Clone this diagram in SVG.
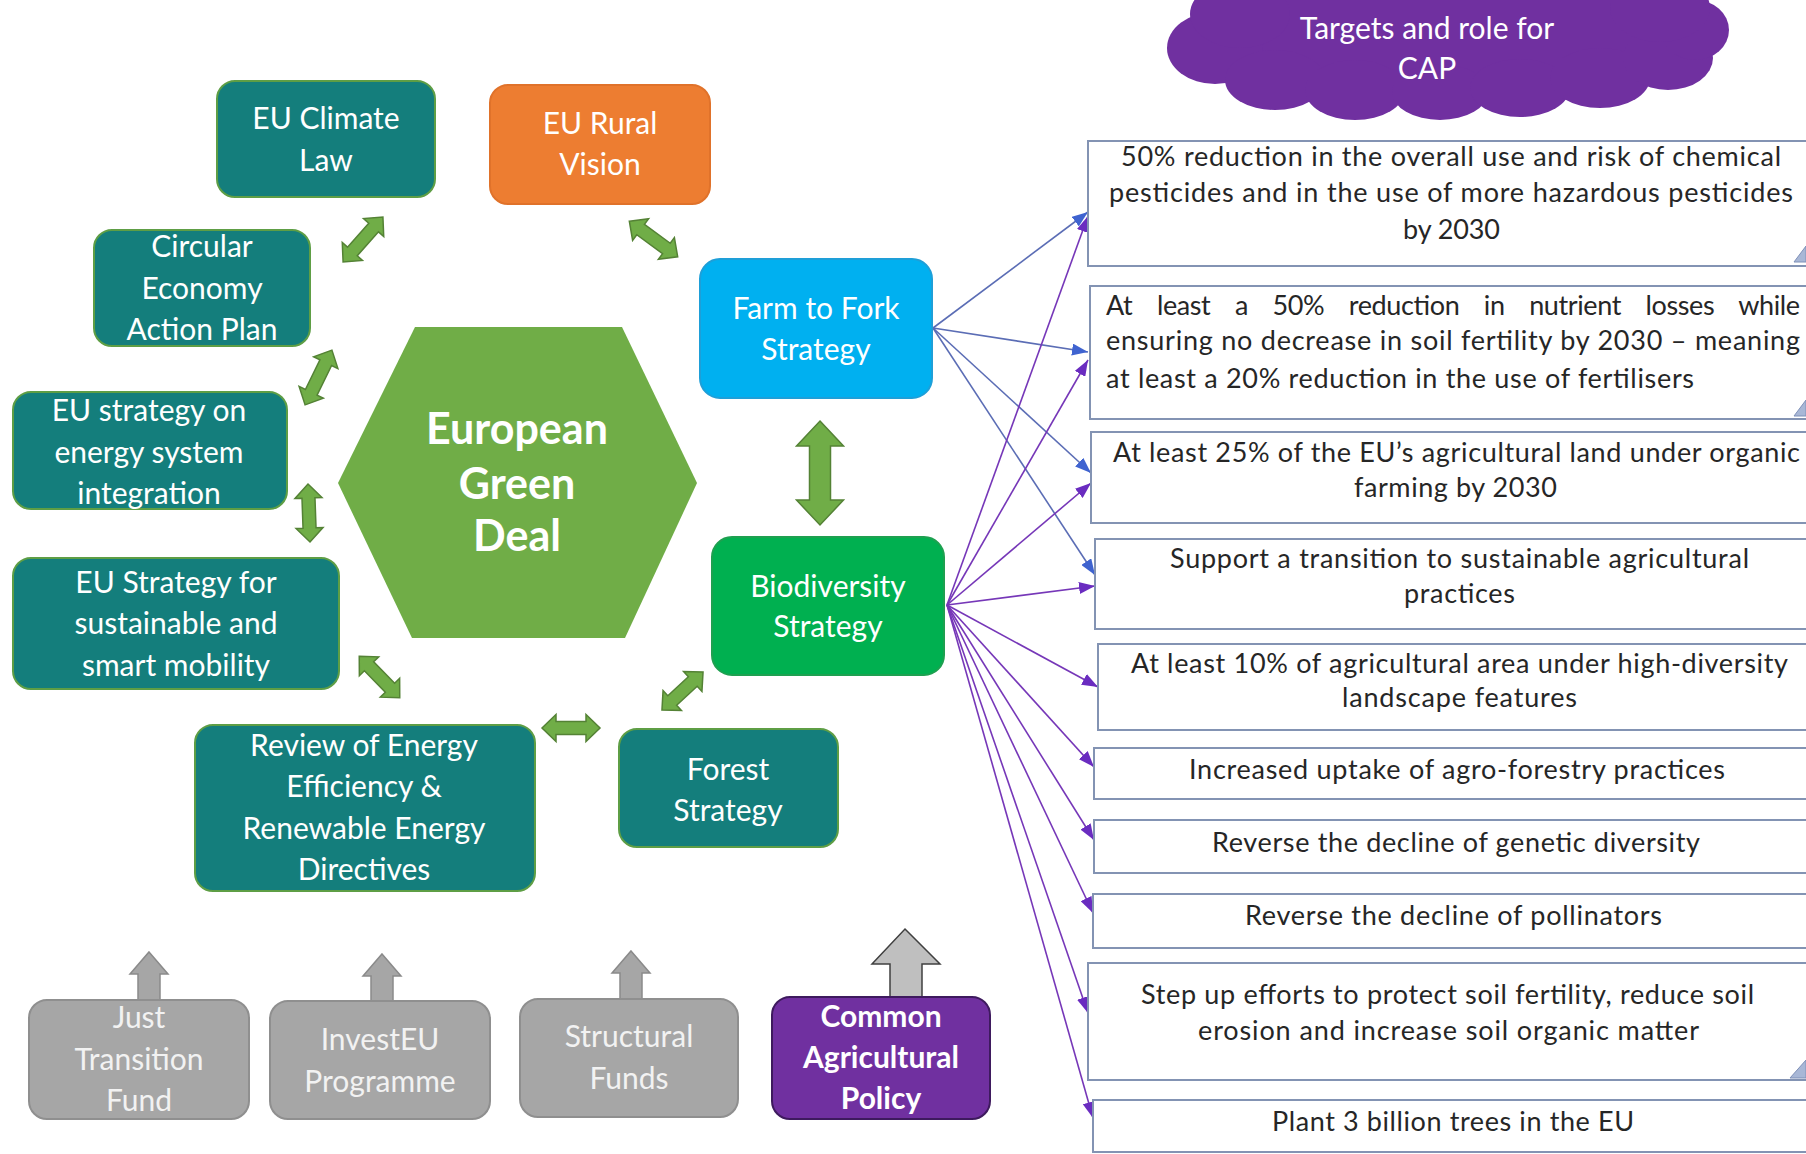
<svg xmlns="http://www.w3.org/2000/svg" width="1806" height="1154" viewBox="0 0 1806 1154">
<defs>
<style>
.teal{fill:#147E7C;stroke:#5E9E45;stroke-width:2}
.nt{font-family:Lato,"Liberation Sans",sans-serif;font-size:30px;fill:#ffffff;text-anchor:middle}
.bold{font-weight:bold}
.gray{fill:#A6A6A6;stroke:#8F8F8F;stroke-width:2}
.gt{font-family:Lato,"Liberation Sans",sans-serif;font-size:30px;fill:#F2F2F2;text-anchor:middle}
.tbox{fill:#ffffff;stroke:#8393B3;stroke-width:2}
.tt{font-family:Lato,"Liberation Sans",sans-serif;font-size:27px;fill:#262626}
.dbl{fill:#70AD47;stroke:#548235;stroke-width:1.5}
.up{fill:#A6A6A6;stroke:#8A8A8A;stroke-width:1.5}
.cf{fill:#A8B7D6;stroke:#7F90B8;stroke-width:1}
.lb{stroke:#5B6DB5;stroke-width:1.6;fill:none}
.lp{stroke:#7637B8;stroke-width:1.6;fill:none}
</style>
<marker id="hb" viewBox="0 0 16 12" refX="16" refY="6" markerWidth="16" markerHeight="12" markerUnits="userSpaceOnUse" orient="auto"><path d="M0,0 L16,6 L0,12 Z" fill="#3F63D0"/></marker>
<marker id="hp" viewBox="0 0 16 12" refX="16" refY="6" markerWidth="16" markerHeight="12" markerUnits="userSpaceOnUse" orient="auto"><path d="M0,0 L16,6 L0,12 Z" fill="#6A2CC0"/></marker>
</defs>
<rect width="1806" height="1154" fill="#ffffff"/>

<g id="cloud">
<g fill="#7030A0">
<ellipse cx="1447" cy="40" rx="262" ry="62"/>
<ellipse cx="1215" cy="48" rx="48" ry="36"/>
<ellipse cx="1275" cy="80" rx="50" ry="30"/>
<ellipse cx="1355" cy="90" rx="50" ry="30"/>
<ellipse cx="1440" cy="92" rx="48" ry="28"/>
<ellipse cx="1520" cy="88" rx="50" ry="29"/>
<ellipse cx="1600" cy="78" rx="50" ry="30"/>
<ellipse cx="1668" cy="58" rx="45" ry="32"/>
<ellipse cx="1695" cy="30" rx="34" ry="30"/>
<ellipse cx="1240" cy="14" rx="50" ry="34"/>
<ellipse cx="1660" cy="8" rx="50" ry="34"/>
</g>
<text class="nt" x="1427" y="39" fill="#F3EAFA">Targets and role for</text>
<text class="nt" x="1427" y="79" fill="#F3EAFA">CAP</text>
</g>

<g id="connectors">
<g class="lb">
<line x1="933" y1="328" x2="1088" y2="212" marker-end="url(#hb)"/>
<line x1="933" y1="328" x2="1088" y2="352" marker-end="url(#hb)"/>
<line x1="933" y1="328" x2="1091" y2="473" marker-end="url(#hb)"/>
<line x1="933" y1="328" x2="1095" y2="575" marker-end="url(#hb)"/>
</g>
<g class="lp">
<line x1="947" y1="605" x2="1088" y2="216" marker-end="url(#hp)"/>
<line x1="947" y1="605" x2="1088" y2="360" marker-end="url(#hp)"/>
<line x1="947" y1="605" x2="1091" y2="483" marker-end="url(#hp)"/>
<line x1="947" y1="605" x2="1095" y2="586" marker-end="url(#hp)"/>
<line x1="947" y1="605" x2="1098" y2="687" marker-end="url(#hp)"/>
<line x1="947" y1="605" x2="1094" y2="767" marker-end="url(#hp)"/>
<line x1="947" y1="605" x2="1094" y2="840" marker-end="url(#hp)"/>
<line x1="947" y1="605" x2="1093" y2="913" marker-end="url(#hp)"/>
<line x1="947" y1="605" x2="1088" y2="1013" marker-end="url(#hp)"/>
<line x1="947" y1="605" x2="1093" y2="1118" marker-end="url(#hp)"/>
</g>
<g id="green-arrows">
<path class="dbl" transform="translate(363,239.5) rotate(-48.4)" d="M-30,0 L-16,-13.5 L-16,-6.5 L16,-6.5 L16,-13.5 L30,0 L16,13.5 L16,6.5 L-16,6.5 L-16,13.5 Z"/>
<path class="dbl" transform="translate(653.5,239) rotate(36.3)" d="M-30,0 L-16,-13.5 L-16,-6.5 L16,-6.5 L16,-13.5 L30,0 L16,13.5 L16,6.5 L-16,6.5 L-16,13.5 Z"/>
<path class="dbl" transform="translate(318.5,377.5) rotate(-63.9)" d="M-30.5,0 L-16.5,-13.5 L-16.5,-6.5 L16.5,-6.5 L16.5,-13.5 L30.5,0 L16.5,13.5 L16.5,6.5 L-16.5,6.5 L-16.5,13.5 Z"/>
<path class="dbl" transform="translate(309,513) rotate(88)" d="M-29,0 L-15,-13.5 L-15,-6.5 L15,-6.5 L15,-13.5 L29,0 L15,13.5 L15,6.5 L-15,6.5 L-15,13.5 Z"/>
<path class="dbl" transform="translate(379.5,677) rotate(45.7)" d="M-29,0 L-15,-13.5 L-15,-6.5 L15,-6.5 L15,-13.5 L29,0 L15,13.5 L15,6.5 L-15,6.5 L-15,13.5 Z"/>
<path class="dbl" transform="translate(571,728)" d="M-29,0 L-15,-13.5 L-15,-6.5 L15,-6.5 L15,-13.5 L29,0 L15,13.5 L15,6.5 L-15,6.5 L-15,13.5 Z"/>
<path class="dbl" transform="translate(682.5,691) rotate(-42.8)" d="M-28,0 L-14,-13.5 L-14,-6.5 L14,-6.5 L14,-13.5 L28,0 L14,13.5 L14,6.5 L-14,6.5 L-14,13.5 Z"/>
<path class="dbl" transform="translate(820,473) rotate(90)" d="M-52,0 L-27,-23.5 L-27,-10.5 L27,-10.5 L27,-23.5 L52,0 L27,23.5 L27,10.5 L-27,10.5 L-27,23.5 Z"/>
</g>
<g id="up-arrows">
<path class="up" d="M149,952 L168,974 L160,974 L160,1001 L138,1001 L138,974 L130,974 Z"/>
<path class="up" d="M382,954 L401,976 L393,976 L393,1002 L371,1002 L371,976 L363,976 Z"/>
<path class="up" d="M631,951 L650,973 L642,973 L642,999 L620,999 L620,973 L612,973 Z"/>
<path d="M905,929 L940,964 L922,964 L922,997 L890,997 L890,964 L872,964 Z" fill="#BFBFBF" stroke="#404040" stroke-width="1.5"/>
</g>
</g>

<g id="n-climate">
<rect class="teal" x="217" y="81" width="218" height="116" rx="18"/>
<text class="nt" x="326" y="129">EU Climate</text>
<text class="nt" x="326" y="171">Law</text>
</g>
<g id="n-rural">
<rect x="490" y="85" width="220" height="119" rx="18" fill="#ED7D31" stroke="#E0722A" stroke-width="2"/>
<text class="nt" x="600" y="134">EU Rural</text>
<text class="nt" x="600" y="175">Vision</text>
</g>
<g id="n-circular">
<rect class="teal" x="94" y="230" width="216" height="116" rx="18"/>
<text class="nt" x="202" y="257">Circular</text>
<text class="nt" x="202" y="299">Economy</text>
<text class="nt" x="202" y="340">Action Plan</text>
</g>
<g id="n-energy">
<rect class="teal" x="13" y="392" width="274" height="117" rx="18"/>
<text class="nt" x="149" y="421">EU strategy on</text>
<text class="nt" x="149" y="463">energy system</text>
<text class="nt" x="149" y="504">integration</text>
</g>
<g id="n-mobility">
<rect class="teal" x="13" y="558" width="326" height="131" rx="18"/>
<text class="nt" x="176" y="593">EU Strategy for</text>
<text class="nt" x="176" y="634">sustainable and</text>
<text class="nt" x="176" y="676">smart mobility</text>
</g>
<g id="n-review">
<rect class="teal" x="195" y="725" width="340" height="166" rx="18"/>
<text class="nt" x="364" y="756">Review of Energy</text>
<text class="nt" x="364" y="797">Efficiency &amp;</text>
<text class="nt" x="364" y="839">Renewable Energy</text>
<text class="nt" x="364" y="880">Directives</text>
</g>
<g id="n-forest">
<rect class="teal" x="619" y="729" width="219" height="118" rx="18"/>
<text class="nt" x="728" y="780">Forest</text>
<text class="nt" x="728" y="821">Strategy</text>
</g>
<g id="n-biodiversity">
<rect x="712" y="537" width="232" height="138" rx="20" fill="#00B050" stroke="#1EA050" stroke-width="2"/>
<text class="nt" x="828" y="597">Biodiversity</text>
<text class="nt" x="828" y="637">Strategy</text>
</g>
<g id="n-farm">
<rect x="700" y="259" width="232" height="139" rx="20" fill="#00B0F0" stroke="#1E9FD8" stroke-width="2"/>
<text class="nt" x="816" y="319">Farm to Fork</text>
<text class="nt" x="816" y="360">Strategy</text>
</g>
<g id="n-greendeal">
<polygon points="415,327 622,327 697,483 625,638 412,638 338,483" fill="#70AD47"/>
<text class="nt bold" x="517" y="444" style="font-size:43px">European</text>
<text class="nt bold" x="517" y="499" style="font-size:43px">Green</text>
<text class="nt bold" x="517" y="551" style="font-size:43px">Deal</text>
</g>
<g id="n-just">
<rect class="gray" x="29" y="1000" width="220" height="119" rx="18"/>
<text class="gt" x="139" y="1028">Just</text>
<text class="gt" x="139" y="1070">Transition</text>
<text class="gt" x="139" y="1111">Fund</text>
</g>
<g id="n-investeu">
<rect class="gray" x="270" y="1001" width="220" height="118" rx="18"/>
<text class="gt" x="380" y="1050">InvestEU</text>
<text class="gt" x="380" y="1092">Programme</text>
</g>
<g id="n-structural">
<rect class="gray" x="520" y="999" width="218" height="118" rx="18"/>
<text class="gt" x="629" y="1047">Structural</text>
<text class="gt" x="629" y="1089">Funds</text>
</g>
<g id="n-cap">
<rect x="772" y="997" width="218" height="122" rx="18" fill="#7030A0" stroke="#3E1A5E" stroke-width="2"/>
<text class="nt bold" x="881" y="1027">Common</text>
<text class="nt bold" x="881" y="1068">Agricultural</text>
<text class="nt bold" x="881" y="1109">Policy</text>
</g>

<g id="t1">
<rect class="tbox" x="1088" y="141" width="724" height="125"/>
<polygon class="cf" points="1806,246 1794,262 1806,262"/>
<text class="tt" x="1121" y="166" textLength="660">50% reduction in the overall use and risk of chemical</text>
<text class="tt" x="1109" y="202" textLength="684">pesticides and in the use of more hazardous pesticides</text>
<text class="tt" x="1403" y="239" textLength="97">by 2030</text>
</g>
<g id="t2">
<rect class="tbox" x="1090" y="286" width="722" height="133"/>
<polygon class="cf" points="1806,400 1794,416 1806,416"/>
<text class="tt" x="1106" y="315" word-spacing="18" textLength="694">At least a 50% reduction in nutrient losses while</text>
<text class="tt" x="1106" y="350" textLength="694">ensuring no decrease in soil fertility by 2030 – meaning</text>
<text class="tt" x="1106" y="388" textLength="588">at least a 20% reduction in the use of fertilisers</text>
</g>
<g id="t3">
<rect class="tbox" x="1091" y="432" width="721" height="91"/>
<text class="tt" x="1113" y="462" textLength="687">At least 25% of the EU’s agricultural land under organic</text>
<text class="tt" x="1354" y="497" textLength="203">farming by 2030</text>
</g>
<g id="t4">
<rect class="tbox" x="1095" y="539" width="717" height="90"/>
<text class="tt" x="1170" y="568" textLength="579">Support a transition to sustainable agricultural</text>
<text class="tt" x="1404" y="603" textLength="111">practices</text>
</g>
<g id="t5">
<rect class="tbox" x="1098" y="644" width="714" height="86"/>
<text class="tt" x="1131" y="673" textLength="657">At least 10% of agricultural area under high-diversity</text>
<text class="tt" x="1342" y="707" textLength="235">landscape features</text>
</g>
<g id="t6">
<rect class="tbox" x="1094" y="748" width="718" height="51"/>
<text class="tt" x="1189" y="779" textLength="536">Increased uptake of agro-forestry practices</text>
</g>
<g id="t7">
<rect class="tbox" x="1094" y="820" width="718" height="53"/>
<text class="tt" x="1212" y="852" textLength="488">Reverse the decline of genetic diversity</text>
</g>
<g id="t8">
<rect class="tbox" x="1093" y="894" width="719" height="54"/>
<text class="tt" x="1245" y="925" textLength="417">Reverse the decline of pollinators</text>
</g>
<g id="t9">
<rect class="tbox" x="1088" y="963" width="724" height="117"/>
<polygon class="cf" points="1806,1060 1790,1078 1806,1078"/>
<text class="tt" x="1141" y="1004" textLength="613">Step up efforts to protect soil fertility, reduce soil</text>
<text class="tt" x="1198" y="1040" textLength="501">erosion and increase soil organic matter</text>
</g>
<g id="t10">
<rect class="tbox" x="1093" y="1100" width="719" height="52"/>
<text class="tt" x="1272" y="1131" textLength="362">Plant 3 billion trees in the EU</text>
</g>
</svg>
